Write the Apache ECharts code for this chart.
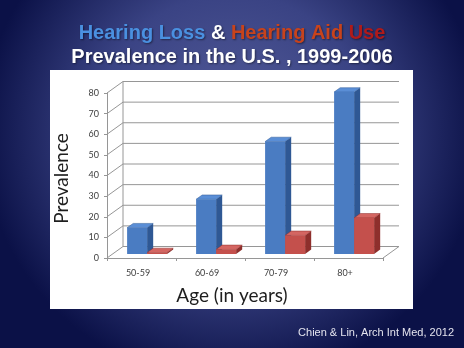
<!DOCTYPE html>
<html>
<head>
<meta charset="utf-8">
<script src="https://cdn.jsdelivr.net/npm/echarts@6/dist/echarts.min.js"></script>
<style>html,body{margin:0;padding:0;background:#1a2060;}#c{width:464px;height:348px;}</style>
</head>
<body>
<div id="c"></div>
<script>
var categories = ['50-59', '60-69', '70-79', '80+'];
var hearingLoss = [12.7, 26.5, 54.5, 78.5];
var hearingAidUse = [0.7, 2.2, 9, 17.5];
var valueTicks = [0, 10, 20, 30, 40, 50, 60, 70, 80];

var DX = 16, DY = -11.5;      // depth of the 3D box
var F0 = 0.35, FD = 0.38;     // bar front position / bar depth as fraction of box depth
var BAR = 20;

var chart = echarts.init(document.getElementById('c'), null, {renderer: 'canvas'});

function wallItem(params, api) {
  var cs = params.coordSys;
  var v = api.value(0);
  var y = api.coord([0, v])[1];
  var x0 = cs.x, x1 = cs.x + cs.width;
  var style = {stroke: '#969696', lineWidth: 1, fill: null};
  var children = [{
    type: 'polyline',
    shape: {points: [[x0, y], [x0 + DX, y + DY], [x1 + DX, y + DY]]},
    style: style
  }];
  if (v === 0) {
    var yTop = api.coord([0, 80])[1];
    children.push({type: 'line', shape: {x1: x1, y1: y, x2: x1 + DX, y2: y + DY}, style: style});
    children.push({type: 'line', shape: {x1: x0 + DX, y1: y + DY, x2: x0 + DX, y2: yTop + DY}, style: style});
  }
  return {type: 'group', children: children};
}

function makeBar(side, cFront, cTop, cSide) {
  return function (params, api) {
    var idx = api.value(0);
    var base = api.coord([idx, 0]);
    var top = api.coord([idx, api.value(1)]);
    var cx = base[0];
    var L = side === 0 ? cx - BAR : cx;
    var R = L + BAR;
    var ox = F0 * DX, oy = F0 * DY;
    var ddx = FD * DX, ddy = FD * DY;
    L += ox; R += ox;
    var yt = top[1] + oy, yb = base[1] + oy;
    return {
      type: 'group',
      children: [
        {type: 'polygon', shape: {points: [[R, yt], [R + ddx, yt + ddy], [R + ddx, yb + ddy], [R, yb]]},
         style: {fill: cSide}},
        {type: 'polygon', shape: {points: [[L, yt], [R, yt], [R + ddx, yt + ddy], [L + ddx, yt + ddy]]},
         style: {fill: cTop, stroke: cSide, lineWidth: 0.5}},
        {type: 'rect', shape: {x: L, y: yt, width: R - L, height: yb - yt},
         style: {fill: cFront}}
      ]
    };
  };
}

var option = {
  animation: false,
  graphic: [
    {type: 'rect', z: -20, shape: {x: 0, y: 0, width: 464, height: 348},
     style: {fill: new echarts.graphic.RadialGradient(0.5, 0.38, 0.72, [
       {offset: 0, color: '#555d9a'},
       {offset: 0.55, color: '#3a4384'},
       {offset: 1, color: '#0b1147'}
     ])}},
    {type: 'rect', z: -10, shape: {x: 50, y: 70, width: 363, height: 239},
     style: {fill: '#ffffff'}},
    {type: 'text', z: 10, left: 'center', top: 23,
     style: {
       text: '{b|Hearing Loss}{w| & }{r|Hearing Aid }{d|Use}',
       rich: {
         b: {fill: '#4a90e0', fontSize: 20, fontWeight: 'bold', fontFamily: 'Liberation Sans'},
         w: {fill: '#ffffff', fontSize: 20, fontWeight: 'bold', fontFamily: 'Liberation Sans'},
         r: {fill: '#c8431c', fontSize: 20, fontWeight: 'bold', fontFamily: 'Liberation Sans'},
         d: {fill: '#b01a1a', fontSize: 20, fontWeight: 'bold', fontFamily: 'Liberation Sans'}
       },
       textShadowColor: 'rgba(0,0,0,0.45)', textShadowBlur: 2, textShadowOffsetX: 1, textShadowOffsetY: 1
     }},
    {type: 'text', z: 10, left: 'center', top: 47,
     style: {
       text: 'Prevalence in the U.S. , 1999-2006',
       fill: '#ffffff', fontSize: 20, fontWeight: 'bold', fontFamily: 'Liberation Sans',
       textShadowColor: 'rgba(0,0,0,0.45)', textShadowBlur: 2, textShadowOffsetX: 1, textShadowOffsetY: 1
     }},
    {type: 'text', z: 10, right: 10, top: 327,
     style: {text: 'Chien & Lin, Arch Int Med, 2012', fill: '#e4e4ee', fontSize: 11, fontFamily: 'Liberation Sans'}},
    {type: 'text', z: 10, left: 'center', top: 286,
     style: {text: 'Age (in years)', fill: '#1e1e1e', fontSize: 19, fontFamily: 'Lato', x: -12}}
  ],
  grid: {left: 107, right: 81, top: 93, bottom: 90},
  xAxis: {
    type: 'category',
    data: categories,
    axisLine: {show: true, lineStyle: {color: '#969696', width: 1}},
    axisTick: {show: true, length: 3, lineStyle: {color: '#969696'}},
    axisLabel: {color: '#404040', fontSize: 9, fontFamily: 'Lato', margin: 11, padding: [0, 7, 0, 0]},
    splitLine: {show: false}
  },
  yAxis: {
    type: 'value',
    min: 0, max: 80, interval: 10,
    name: 'Prevalence',
    nameLocation: 'middle',
    nameRotate: 90,
    nameGap: 36,
    nameTextStyle: {color: '#1e1e1e', fontSize: 19, fontFamily: 'Lato', padding: [0, 6, 0, 0]},
    axisLine: {show: true, lineStyle: {color: '#969696', width: 1}},
    axisTick: {show: true, length: 3, lineStyle: {color: '#969696'}},
    axisLabel: {color: '#404040', fontSize: 9, fontFamily: 'Lato', margin: 8},
    splitLine: {show: false}
  },
  series: [
    {type: 'custom', renderItem: wallItem, data: valueTicks.map(function (v) { return [v]; }),
     encode: {y: 0}, silent: true, z: 1},
    {type: 'custom', name: 'Hearing Loss',
     renderItem: makeBar(0, '#4a7cc2', '#5a8ed6', '#2f5894'),
     data: hearingLoss.map(function (v, i) { return [i, v]; }), encode: {x: 0, y: 1}, z: 3},
    {type: 'custom', name: 'Hearing Aid Use',
     renderItem: makeBar(1, '#c4504c', '#d46662', '#8e2f2c'),
     data: hearingAidUse.map(function (v, i) { return [i, v]; }), encode: {x: 0, y: 1}, z: 4}
  ]
};
chart.setOption(option);
</script>
</body>
</html>
